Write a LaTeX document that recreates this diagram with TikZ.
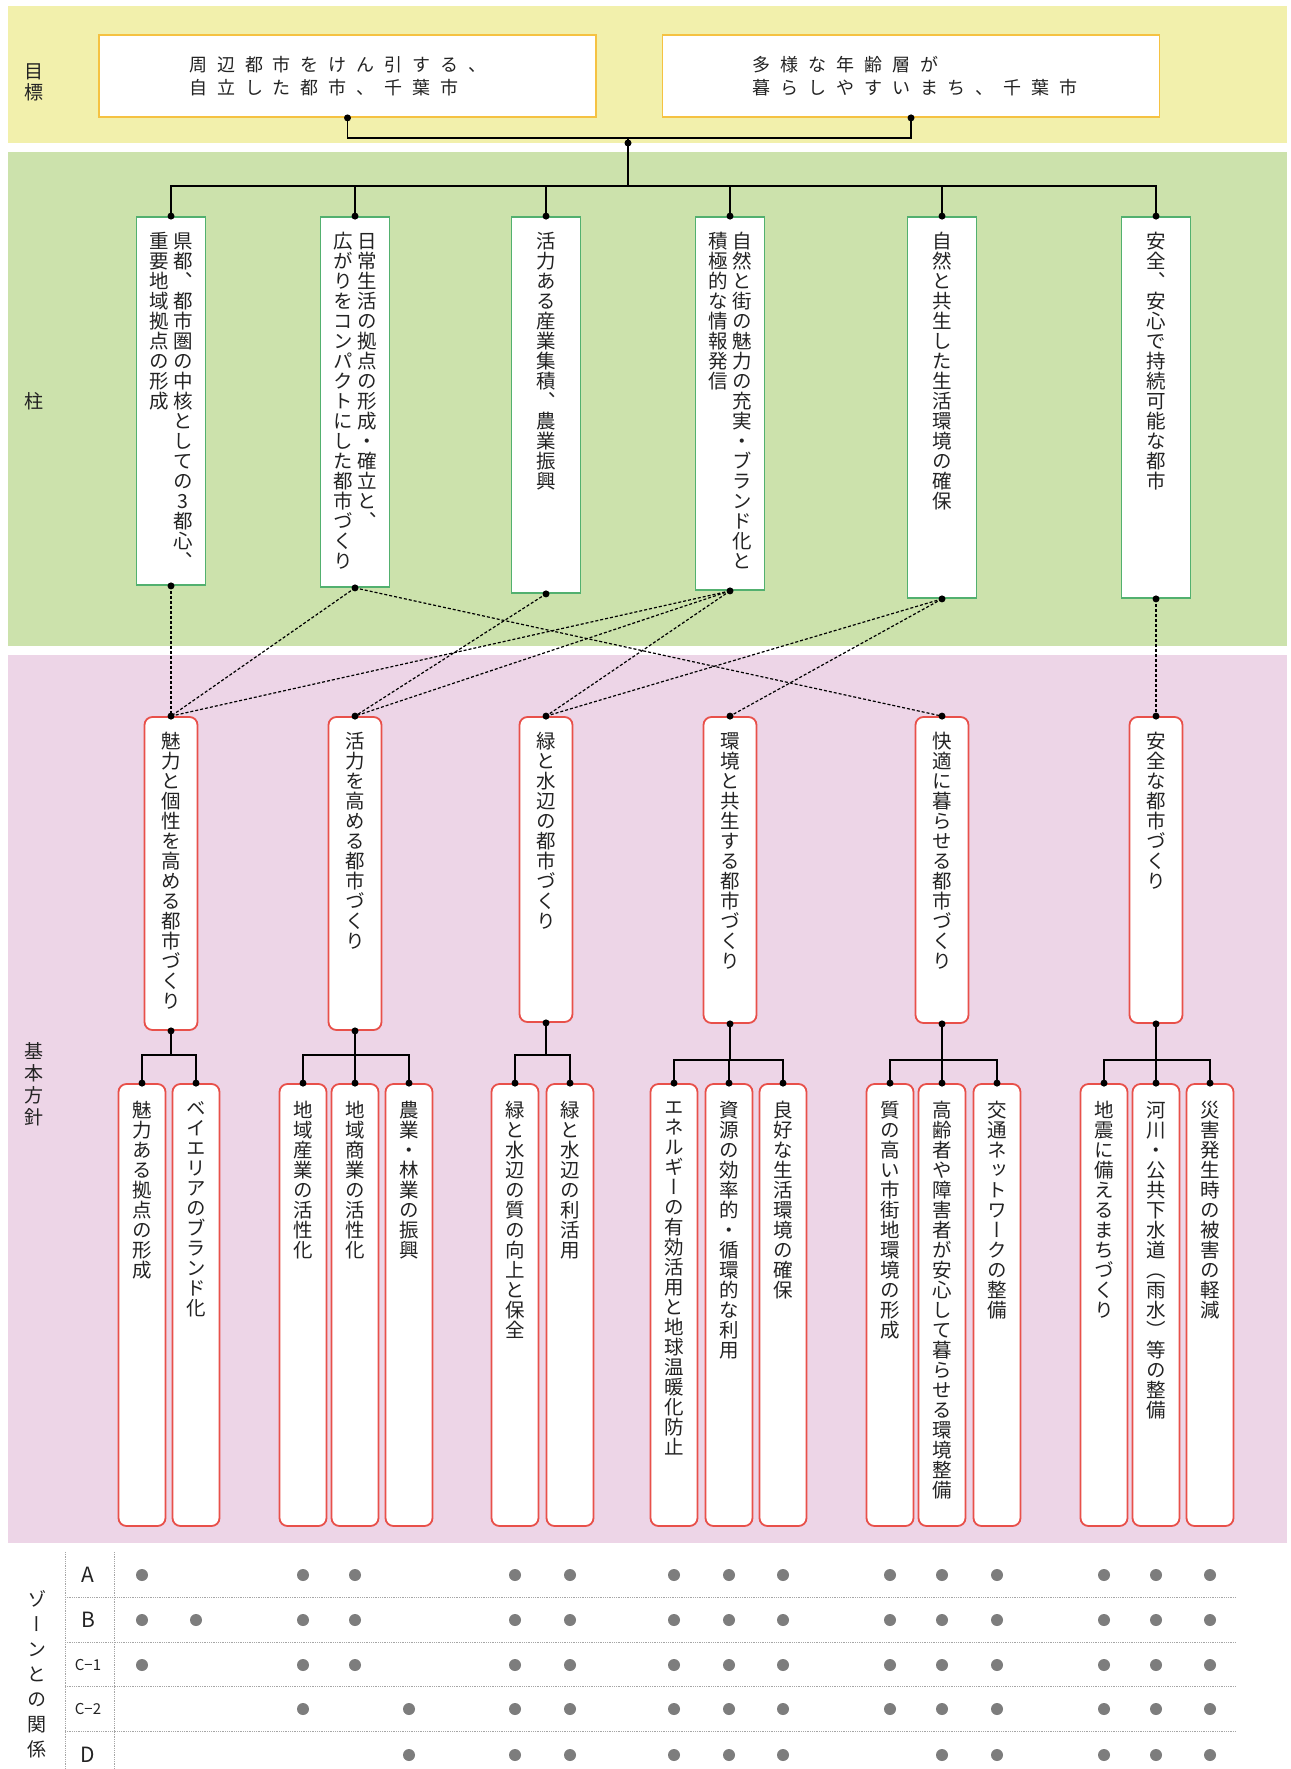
\documentclass[tikz,border=0pt]{standalone}
\usepackage{fontspec}
\usepackage{tikz}
\usetikzlibrary{positioning, calc}

\newfontfamily\jpfont{Noto Sans CJK JP}
\newfontfamily\tatefont[RawFeature=+vert]{Noto Sans CJK JP}
\newfontfamily\goalfont[LetterSpace=55]{Noto Sans CJK JP}

\definecolor{bandyellow}{RGB}{242, 240, 172}
\definecolor{bandgreen}{RGB}{204, 226, 172}
\definecolor{bandpink}{RGB}{237, 213, 231}
\definecolor{goalorange}{RGB}{245, 194, 66}
\definecolor{pillargreen}{RGB}{82, 176, 111}
\definecolor{policyred}{RGB}{232, 80, 74}
\definecolor{dotgray}{RGB}{125, 125, 125}
\definecolor{inkgray}{RGB}{35, 35, 35}

% vertical (tategaki) columns
\ExplSyntaxOn
\NewDocumentCommand \tate { O{20pt} m }
  {
    \vtop
      {
        \baselineskip = #1
        \lineskiplimit = -\maxdimen
        \tl_map_inline:nn {#2} { \hbox_to_wd:nn { 1.1em } { \hss ##1 \hss } }
      }
  }
\NewDocumentCommand \tatetwo { O{20pt} m m }
  { \hbox { \tate[#1]{#3} \kern 3pt \tate[#1]{#2} } }
\ExplSyntaxOff

\tikzset{
  goalbox/.style={draw=goalorange, line width=1.8pt, fill=white, minimum width=497pt, minimum height=82pt},
  goaltext/.style={anchor=west, align=left, inner sep=0pt, text=inkgray, font=\goalfont\fontsize{18}{23}\selectfont},
  pillarbox/.style={draw=pillargreen, line width=1.8pt, fill=white, minimum width=69pt},
  policybox/.style={draw=policyred, line width=1.8pt, fill=white, rounded corners=8pt, minimum width=53pt},
  subbox/.style={draw=policyred, line width=1.8pt, fill=white, rounded corners=8pt, minimum width=47pt, minimum height=442pt},
  tatetext/.style={anchor=north, inner sep=0pt, text=inkgray, font=\tatefont\fontsize{19.5}{20}\selectfont},
  sidelabel/.style={anchor=north, inner sep=0pt, text=inkgray, font=\tatefont\fontsize{19}{20}\selectfont},
  zonelabel/.style={inner sep=0pt, text=inkgray, font=\jpfont\fontsize{21}{22}\selectfont},
  smallzone/.style={zonelabel, font=\jpfont\fontsize{15}{16}\selectfont},
  link/.style={line width=1.6pt, black},
  dlink/.style={line width=1.2pt, black, dash pattern=on 3pt off 2pt},
  tablerule/.style={line width=0.8pt, gray!70, densely dotted},
}

\begin{document}
\begin{tikzpicture}[x=1pt, y=-1pt]
  \useasboundingbox (0,0) rectangle (1290,1769);
  \fill[white] (0,0) rectangle (1290,1769);

  % Bands
  \fill[bandyellow] (8,6) rectangle (1287,143);
  \fill[bandgreen] (8,152) rectangle (1287,646);
  \fill[bandpink] (8,655) rectangle (1287,1543);

  % Side labels
  \node[sidelabel] (lgoal) at (34,64) {\tate[21pt]{目標}};
  \node[sidelabel] (lpillar) at (34,392) {\tate{柱}};
  \node[sidelabel] (lpolicy) at (34,1042) {\tate[22pt]{基本方針}};
  \node[sidelabel] (lzone) at (37,1590) {\tate[25pt]{ゾーンとの関係}};

  % Goals
  \node[goalbox] (g1) at (347.5,76) {};
  \node[goalbox] (g2) at (911,76) {};
  \node[goaltext] (g1t) at ([xshift=91pt]g1.west) {周辺都市をけん引する、\\自立した都市、千葉市};
  \node[goaltext] (g2t) at ([xshift=91pt]g2.west) {多様な年齢層が\\暮らしやすいまち、千葉市};

  % Pillars
  \node[pillarbox, minimum height=368pt] (p1) at (171,401) {};
  \node[pillarbox, minimum height=370pt] (p2) at (355,402) {};
  \node[pillarbox, minimum height=376pt] (p3) at (546,405) {};
  \node[pillarbox, minimum height=373pt] (p4) at (730,403.5) {};
  \node[pillarbox, minimum height=381pt] (p5) at (942,407.5) {};
  \node[pillarbox, minimum height=381pt] (p6) at (1156,407.5) {};
  \node[tatetext] (p1t) at ([yshift=-16pt]p1.north) {\tatetwo{県都、都市圏の中核としての3都心、}{重要地域拠点の形成}};
  \node[tatetext] (p2t) at ([yshift=-16pt]p2.north) {\tatetwo{日常生活の拠点の形成・確立と、}{広がりをコンパクトにした都市づくり}};
  \node[tatetext] (p3t) at ([yshift=-16pt]p3.north) {\tate{活力ある産業集積、農業振興}};
  \node[tatetext] (p4t) at ([yshift=-16pt]p4.north) {\tatetwo{自然と街の魅力の充実・ブランド化と}{積極的な情報発信}};
  \node[tatetext] (p5t) at ([yshift=-16pt]p5.north) {\tate{自然と共生した生活環境の確保}};
  \node[tatetext] (p6t) at ([yshift=-16pt]p6.north) {\tate{安全、安心で持続可能な都市}};

  % Basic policies
  \node[policybox, minimum height=313pt] (q1) at (171,873.5) {};
  \node[policybox, minimum height=313pt] (q2) at (355,873.5) {};
  \node[policybox, minimum height=305pt] (q3) at (546,869.5) {};
  \node[policybox, minimum height=306pt] (q4) at (730,870) {};
  \node[policybox, minimum height=306pt] (q5) at (942,870) {};
  \node[policybox, minimum height=306pt] (q6) at (1156,870) {};
  \node[tatetext] (q1t) at ([yshift=-16pt]q1.north) {\tate{魅力と個性を高める都市づくり}};
  \node[tatetext] (q2t) at ([yshift=-16pt]q2.north) {\tate{活力を高める都市づくり}};
  \node[tatetext] (q3t) at ([yshift=-16pt]q3.north) {\tate{緑と水辺の都市づくり}};
  \node[tatetext] (q4t) at ([yshift=-16pt]q4.north) {\tate{環境と共生する都市づくり}};
  \node[tatetext] (q5t) at ([yshift=-16pt]q5.north) {\tate{快適に暮らせる都市づくり}};
  \node[tatetext] (q6t) at ([yshift=-16pt]q6.north) {\tate{安全な都市づくり}};

  % Measures
  \node[subbox] (s1) at (142,1305) {};
  \node[subbox] (s2) at (196,1305) {};
  \node[subbox] (s3) at (303,1305) {};
  \node[subbox] (s4) at (355,1305) {};
  \node[subbox] (s5) at (409,1305) {};
  \node[subbox] (s6) at (515,1305) {};
  \node[subbox] (s7) at (570,1305) {};
  \node[subbox] (s8) at (674,1305) {};
  \node[subbox] (s9) at (729,1305) {};
  \node[subbox] (s10) at (783,1305) {};
  \node[subbox] (s11) at (890,1305) {};
  \node[subbox] (s12) at (942,1305) {};
  \node[subbox] (s13) at (997,1305) {};
  \node[subbox] (s14) at (1104,1305) {};
  \node[subbox] (s15) at (1156,1305) {};
  \node[subbox] (s16) at (1210,1305) {};
  \node[tatetext] (s1t) at ([yshift=-18pt]s1.north) {\tate{魅力ある拠点の形成}};
  \node[tatetext] (s2t) at ([yshift=-18pt]s2.north) {\tate{ベイエリアのブランド化}};
  \node[tatetext] (s3t) at ([yshift=-18pt]s3.north) {\tate{地域産業の活性化}};
  \node[tatetext] (s4t) at ([yshift=-18pt]s4.north) {\tate{地域商業の活性化}};
  \node[tatetext] (s5t) at ([yshift=-18pt]s5.north) {\tate{農業・林業の振興}};
  \node[tatetext] (s6t) at ([yshift=-18pt]s6.north) {\tate{緑と水辺の質の向上と保全}};
  \node[tatetext] (s7t) at ([yshift=-18pt]s7.north) {\tate{緑と水辺の利活用}};
  \node[tatetext] (s8t) at ([yshift=-18pt]s8.north) {\tate{エネルギーの有効活用と地球温暖化防止}};
  \node[tatetext] (s9t) at ([yshift=-18pt]s9.north) {\tate{資源の効率的・循環的な利用}};
  \node[tatetext] (s10t) at ([yshift=-18pt]s10.north) {\tate{良好な生活環境の確保}};
  \node[tatetext] (s11t) at ([yshift=-18pt]s11.north) {\tate{質の高い市街地環境の形成}};
  \node[tatetext] (s12t) at ([yshift=-18pt]s12.north) {\tate{高齢者や障害者が安心して暮らせる環境整備}};
  \node[tatetext] (s13t) at ([yshift=-18pt]s13.north) {\tate{交通ネットワークの整備}};
  \node[tatetext] (s14t) at ([yshift=-18pt]s14.north) {\tate{地震に備えるまちづくり}};
  \node[tatetext] (s15t) at ([yshift=-18pt]s15.north) {\tate{河川・公共下水道（雨水）等の整備}};
  \node[tatetext] (s16t) at ([yshift=-18pt]s16.north) {\tate{災害発生時の被害の軽減}};

  % Goals to pillars
  \coordinate (gjoin) at (628,138);
  \coordinate (pbus) at (628,186);
  \draw[link] (g1.south) |- (gjoin) -| (g2.south);
  \draw[link] (gjoin) -- (pbus);
  \draw[link] (p1.north) |- (pbus) -| (p6.north);
  \foreach \p in {p2,p3,p4,p5} \draw[link] (\p.north) -- (\p.north |- pbus);

  % Pillars to policies
  \draw[dlink] (p1.south) -- (q1.north);
  \draw[dlink] (p2.south) -- (q1.north);
  \draw[dlink] (p2.south) -- (q5.north);
  \draw[dlink] (p3.south) -- (q2.north);
  \draw[dlink] (p4.south) -- (q1.north);
  \draw[dlink] (p4.south) -- (q2.north);
  \draw[dlink] (p4.south) -- (q3.north);
  \draw[dlink] (p5.south) -- (q3.north);
  \draw[dlink] (p5.south) -- (q4.north);
  \draw[dlink] (p6.south) -- (q6.north);

  % Policies to measures
  \coordinate (b1) at (171,1055);
  \coordinate (b2) at (355,1055);
  \coordinate (b3) at (546,1055);
  \coordinate (b4) at (730,1060);
  \coordinate (b5) at (942,1060);
  \coordinate (b6) at (1156,1060);
  \foreach \i in {1,...,6} \draw[link] (q\i.south) -- (b\i);
  \draw[link] (s1.north) |- (b1) -| (s2.north);
  \draw[link] (s3.north) |- (b2) -| (s5.north);
  \draw[link] (s4.north) -- (s4.north |- b2);
  \draw[link] (s6.north) |- (b3) -| (s7.north);
  \draw[link] (s8.north) |- (b4) -| (s10.north);
  \draw[link] (s9.north) -- (s9.north |- b4);
  \draw[link] (s11.north) |- (b5) -| (s13.north);
  \draw[link] (s12.north) -- (s12.north |- b5);
  \draw[link] (s14.north) |- (b6) -| (s16.north);
  \draw[link] (s15.north) -- (s15.north |- b6);

  % Joint dots
  \fill (g1.south) circle (3.5pt);
  \fill (g2.south) circle (3.5pt);
  \fill ([yshift=-5pt]gjoin) circle (3.5pt);
  \foreach \n in {p1,p2,p3,p4,p5,p6,q1,q2,q3,q4,q5,q6} {
    \fill (\n.north) circle (3.5pt);
    \fill (\n.south) circle (3.5pt);
  }
  \foreach \i in {1,...,16} \fill (s\i.north) circle (3.5pt);

  % Zone table
  \draw[tablerule] (65,1552) -- (65,1769);
  \draw[tablerule] (114,1552) -- (114,1769);
  \foreach \y in {1597,1642,1686,1731} \draw[tablerule] (65,\y) -- (1236,\y);
  \node[zonelabel] (zA) at (88,1575) {A};
  \node[zonelabel] (zB) at (88,1620) {B};
  \node[smallzone] (zC1) at (88,1665) {C−1};
  \node[smallzone] (zC2) at (88,1709) {C−2};
  \node[zonelabel] (zD) at (88,1755) {D};
  \foreach \i in {1,3,4,6,7,8,9,10,11,12,13,14,15,16} \fill[dotgray] (s\i |- zA) circle (6pt);
  \foreach \i in {1,2,3,4,6,7,8,9,10,11,12,13,14,15,16} \fill[dotgray] (s\i |- zB) circle (6pt);
  \foreach \i in {1,3,4,6,7,8,9,10,11,12,13,14,15,16} \fill[dotgray] (s\i |- zC1) circle (6pt);
  \foreach \i in {3,5,6,7,8,9,10,11,12,13,14,15,16} \fill[dotgray] (s\i |- zC2) circle (6pt);
  \foreach \i in {5,6,7,8,9,10,12,13,14,15,16} \fill[dotgray] (s\i |- zD) circle (6pt);
\end{tikzpicture}
\end{document}
